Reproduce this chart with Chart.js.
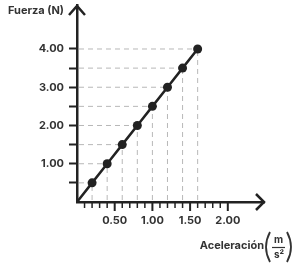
<!DOCTYPE html>
<html>
<head>
<meta charset="utf-8">
<script src="https://cdn.jsdelivr.net/npm/chart.js@4.4.1/dist/chart.umd.min.js"></script>
<style>
  body { margin: 0; background: #fff; }
  #wrap { width: 300px; height: 268px; }
</style>
</head>
<body>
<div id="wrap"><canvas id="myChart" width="300" height="268"></canvas></div>
<script>
// data
var aceleracion = [0, 0.2, 0.4, 0.6, 0.8, 1.0, 1.2, 1.4, 1.6];
var fuerza = [0, 0.5, 1.0, 1.5, 2.0, 2.5, 3.0, 3.5, 4.0];
var xTickLabels = ['0.50', '1.00', '1.50', '2.00'];
var yTickLabels = ['1.00', '2.00', '3.00', '4.00'];
var yTitle = 'Fuerza (N)';
var xTitle = 'Aceleración';

var ink = '#222';
var fontFam = 'Inter, "Noto Sans", sans-serif';

var points = [];
for (var i in aceleracion) {
    points.push({x: aceleracion[i], y: fuerza[i]});
}

// dashed drop lines from each point to both axes
const dropLines = {
    id: 'dropLines',
    beforeDatasetsDraw(chart) {
        const c = chart.ctx, xs = chart.scales.x, ys = chart.scales.y, a = chart.chartArea;
        c.save();
        c.strokeStyle = '#b8b8b8';
        c.lineWidth = 1;
        c.setLineDash([5, 4]);
        points.forEach(function(p, i) {
            if (i == 0) return;
            const px = xs.getPixelForValue(p.x), py = ys.getPixelForValue(p.y);
            c.beginPath();
            c.moveTo(a.left + 2, py); c.lineTo(px, py);
            c.moveTo(px, a.bottom - 2); c.lineTo(px, py);
            c.stroke();
        });
        c.restore();
    }
};

// x tick marks, arrows and axis titles
const decor = {
    id: 'decor',
    afterDraw(chart) {
        const c = chart.ctx, xs = chart.scales.x, a = chart.chartArea;
        c.save();
        c.strokeStyle = ink;
        c.lineCap = 'butt';
        xs.ticks.forEach(function(t) {
            const px = xs.getPixelForValue(t.value);
            const major = Math.abs(t.value * 2 - Math.round(t.value * 2)) < 1e-6;
            c.lineWidth = major ? 2 : 1.5;
            c.beginPath();
            c.moveTo(px, a.bottom);
            c.lineTo(px, a.bottom + (major ? 9 : 6));
            c.stroke();
        });
        // arrows
        c.lineWidth = 2.5;
        c.lineJoin = 'miter';
        c.beginPath();
        c.moveTo(a.left - 8, a.top + 10);
        c.lineTo(a.left, a.top + 1);
        c.lineTo(a.left + 8, a.top + 10);
        c.moveTo(a.right - 8, a.bottom - 8);
        c.lineTo(a.right, a.bottom);
        c.lineTo(a.right - 8, a.bottom + 8);
        c.stroke();

        // titles
        c.fillStyle = '#333';
        c.font = '700 11px ' + fontFam;
        c.textBaseline = 'middle';
        c.textAlign = 'left';
        c.fillText(yTitle, 8, 11);
        c.textAlign = 'right';
        c.fillText(xTitle, 264, 246);

        // (m / s²)
        c.strokeStyle = '#333';
        c.lineWidth = 1.8;
        c.beginPath();
        c.moveTo(270, 232);
        c.quadraticCurveTo(262, 247, 270, 262);
        c.moveTo(287, 232);
        c.quadraticCurveTo(295, 247, 287, 262);
        c.stroke();
        c.lineWidth = 1.2;
        c.beginPath();
        c.moveTo(272, 247.5); c.lineTo(285, 247.5);
        c.stroke();
        c.textAlign = 'center';
        c.font = '700 10px ' + fontFam;
        c.fillText('m', 278.5, 240);
        c.fillText('s²', 279, 255);
        c.restore();
    }
};

const myChart = new Chart(document.getElementById('myChart'), {
    type: 'line',
    data: {
        datasets: [{
            data: points,
            borderColor: ink,
            backgroundColor: ink,
            borderWidth: 2.5,
            pointRadius: points.map(function(p, i) { return i == 0 ? 0 : 4.5; }),
            pointHoverRadius: 4.5,
            pointBackgroundColor: ink,
            pointBorderWidth: 0,
            tension: 0,
            clip: false
        }]
    },
    options: {
        responsive: false,
        animation: false,
        layout: { padding: { top: 5, right: 36, left: 0, bottom: 0 } },
        plugins: { legend: { display: false }, tooltip: { enabled: false } },
        scales: {
            x: {
                type: 'linear',
                min: 0,
                max: 2.48,
                afterBuildTicks: function(s) {
                    s.ticks = s.ticks.filter(function(t) { return t.value > 0.05 && t.value < 2.05; });
                },
                afterFit: function(s) { s.height = 66; s.paddingLeft = 0; s.paddingRight = 0; },
                ticks: {
                    stepSize: 0.1,
                    autoSkip: false,
                    maxRotation: 0,
                    padding: 12,
                    color: '#333',
                    font: { family: fontFam, size: 11, weight: '700' },
                    callback: function(v) {
                        var k = Math.round(v * 2);
                        if (Math.abs(v * 2 - k) < 1e-6 && k >= 1 && k <= 4) return xTickLabels[k - 1];
                        return '';
                    }
                },
                grid: { display: true, drawOnChartArea: false, drawTicks: false },
                border: { display: true, color: ink, width: 2.5 }
            },
            y: {
                type: 'linear',
                min: 0,
                max: 5.15,
                afterBuildTicks: function(s) {
                    s.ticks = s.ticks.filter(function(t) { return t.value > 0.25 && t.value < 4.25; });
                },
                afterFit: function(s) { s.width = 77; s.paddingTop = 0; s.paddingBottom = 0; },
                ticks: {
                    stepSize: 0.5,
                    autoSkip: false,
                    padding: 5,
                    color: '#333',
                    font: { family: fontFam, size: 11, weight: '700' },
                    callback: function(v) {
                        if (Math.abs(v - Math.round(v)) < 1e-6 && v >= 1 && v <= 4) return yTickLabels[Math.round(v) - 1];
                        return '';
                    }
                },
                grid: { display: true, drawOnChartArea: false, drawTicks: true, tickLength: 8, tickWidth: 2, color: ink },
                border: { display: true, color: ink, width: 2.5 }
            }
        }
    },
    plugins: [dropLines, decor]
});
</script>
</body>
</html>
